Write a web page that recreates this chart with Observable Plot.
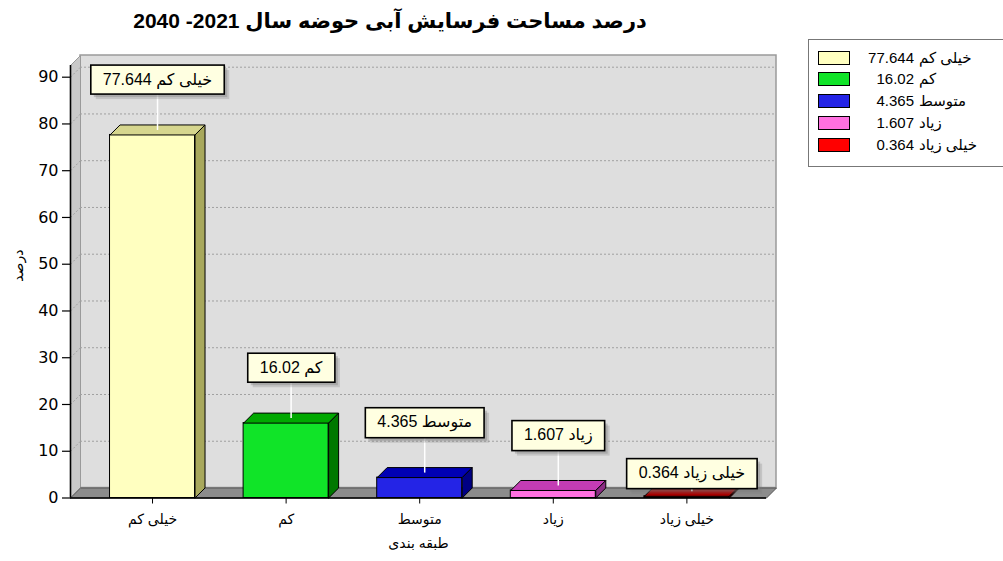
<!DOCTYPE html>
<html><head><meta charset="utf-8">
<script src="https://cdn.jsdelivr.net/npm/d3@7"></script>
<script src="https://cdn.jsdelivr.net/npm/@observablehq/plot@0.6"></script>
<style>
body{margin:0;background:#fff;font-family:"Liberation Sans","DejaVu Sans",sans-serif;}
#wrap{position:relative;width:1003px;height:561px;overflow:hidden;background:#fff;}
#title{position:absolute;left:0;top:0;width:780px;height:40px;line-height:42px;text-align:center;font-weight:bold;font-size:21px;direction:rtl;color:#000;}
#chart{position:absolute;left:0;top:40px;}
#legend{position:absolute;left:808px;top:39px;width:230px;height:128px;border:1px solid #777;box-sizing:border-box;background:#fff;}
.row{position:absolute;left:0;height:22px;width:230px;font-size:15px;color:#000;}
.sw{position:absolute;left:9px;top:4px;width:30px;height:12px;border:1.5px solid #000;}
.num{position:absolute;left:40px;width:65px;text-align:right;top:2px;}
.nm{position:absolute;left:110px;top:2px;white-space:nowrap;}
</style></head>
<body><div id="wrap"><div id="title"></div><div id="chart"></div><div id="legend"></div></div>
<script>
const categories = ["خیلی کم", "کم", "متوسط", "زیاد", "خیلی زیاد"];
const values = [77.644, 16.02, 4.365, 1.607, 0.364];
const yTicks = [0, 10, 20, 30, 40, 50, 60, 70, 80, 90];
const titleText = "درصد مساحت فرسایش آبی حوضه سال 2021- 2040";
const yLabel = "درصد";
const xLabel = "طبقه بندی";
const frontColors = ["#ffffc0", "#10e428", "#2424e6", "#ff70e0", "#e00000"];
const topColors = ["#d6d68e", "#00a800", "#0000b4", "#c43cb4", "#a80000"];
const sideColors = ["#a8a85c", "#007800", "#000084", "#8c2c84", "#780000"];
const legendColors = ["#ffffc0", "#10e428", "#2424e6", "#ff70e0", "#ff0000"];

// layout (pixels)
const W = 1003, H = 521, mL = 70, mR = 237, mT = 25, mB = 63.5;
const yMax = 92.5;
const xDomain = [-0.614, categories.length - 0.404];
const kX = (W - mL - mR) / (xDomain[1] - xDomain[0]);
const kY = (H - mT - mB) / yMax;
const depth = 10;
const dX = depth / kX, dY = depth / kY;
const hw = 42.5 / kX;
const labelOffsetPx = [55.5, 55.5, 55.5, 55.5, 23.3];

document.getElementById("title").textContent = titleText;

const rows = categories.map((c, i) => ({i, c, v: values[i], ly: values[i] + labelOffsetPx[i] / kY, lx: i + dX / 2}));
const poly = (pts, i) => [...pts, pts[0]].map(([x, y]) => ({x, y, i}));
const tops = rows.flatMap(r => poly([[r.i - hw, r.v], [r.i + hw, r.v], [r.i + hw + dX, r.v + dY], [r.i - hw + dX, r.v + dY]], r.i));
const sides = rows.flatMap(r => poly([[r.i + hw, 0], [r.i + hw, r.v], [r.i + hw + dX, r.v + dY], [r.i + hw + dX, dY]], r.i));
const x0 = xDomain[0], x1 = xDomain[1];
const leftWall = poly([[x0, 0], [x0, yMax], [x0 + dX, yMax + dY], [x0 + dX, dY]], 0);
const floor = poly([[x0, 0], [x1, 0], [x1 + dX, dY], [x0 + dX, dY]], 0);

const chart = Plot.plot({
  width: W, height: H,
  marginLeft: mL, marginRight: mR, marginTop: mT, marginBottom: mB,
  x: {domain: xDomain},
  y: {domain: [0, yMax]},
  color: {type: "identity"},
  style: {fontFamily: "'Liberation Sans','DejaVu Sans',sans-serif", background: "transparent"},
  marks: [
    Plot.rect([0], {x1: x0 + dX, x2: x1 + dX, y1: dY, y2: yMax + dY, fill: "#dedede", stroke: "#9a9a9a", strokeWidth: 1.5}),
    Plot.line(leftWall, {x: "x", y: "y", fill: "#c9c9c9", stroke: "#9a9a9a", strokeWidth: 1}),
    Plot.line(floor, {x: "x", y: "y", fill: "#8c8c8c", stroke: "#555", strokeWidth: 1}),
    Plot.ruleY(yTicks.slice(1), {y: t => t + dY, x1: x0 + dX, x2: x1 + dX, stroke: "#a0a0a0", strokeDasharray: "2,2"}),
    Plot.link(yTicks.slice(1), {x1: x0, y1: t => t, x2: x0 + dX, y2: t => t + dY, stroke: "#a0a0a0", strokeDasharray: "2,2"}),
    Plot.rect(rows, {x1: d => d.i - hw, x2: d => d.i + hw, y1: 0, y2: "v", fill: d => frontColors[d.i], stroke: "#000", strokeWidth: 1}),
    Plot.line(tops, {x: "x", y: "y", z: "i", fill: d => topColors[d.i], stroke: "#000", strokeWidth: 1}),
    Plot.line(sides, {x: "x", y: "y", z: "i", fill: d => sideColors[d.i], stroke: "#000", strokeWidth: 1}),
    Plot.ruleX([x0], {y1: 0, y2: yMax, stroke: "#000", strokeWidth: 1.6}),
    Plot.ruleY([0], {x1: x0, x2: x1, stroke: "#000", strokeWidth: 1.6}),
    Plot.axisY(yTicks, {tickSize: 8, tickPadding: 4, fontSize: 16, fontFamily: "DejaVu Sans", label: null, strokeWidth: 1.2}),
    Plot.axisX(d3.range(categories.length), {tickFormat: d => categories[d], tickSize: 6, tickPadding: 10, fontSize: 14, label: null}),
    Plot.text([yLabel], {frameAnchor: "left", dx: -52, rotate: -90, fontSize: 14}),
    Plot.text([xLabel], {frameAnchor: "bottom", dy: 50, fontSize: 14}),
    Plot.link(rows, {x1: "lx", x2: "lx", y1: d => d.v + dY / 2, y2: "ly", stroke: "#fff", strokeWidth: 1.5}),
    Plot.text(rows, {x: "lx", y: "ly", text: d => `${d.v} ${d.c}`, fontSize: 16, fill: "#000", ariaLabel: "value-label"})
  ]
});
document.getElementById("chart").appendChild(chart);

// label boxes behind the value texts
const ns = "http://www.w3.org/2000/svg";
let labelTexts = Array.from(chart.querySelectorAll('text[aria-label="value-label"], g[aria-label="value-label"] text'));
if (!labelTexts.length) {
  const groups = chart.querySelectorAll('g[aria-label="text"]');
  if (groups.length) labelTexts = Array.from(groups[groups.length - 1].querySelectorAll("text"));
}
const padX = 12, padY = 5.5;
for (const t of labelTexts) {
  const b = t.getBBox();
  const tr = t.getAttribute("transform");
  const parent = t.parentNode;
  const mk = (dx, dy, fill, op, stroke) => {
    const r = document.createElementNS(ns, "rect");
    r.setAttribute("x", b.x - padX + dx); r.setAttribute("y", b.y - padY + dy);
    r.setAttribute("width", b.width + 2 * padX); r.setAttribute("height", b.height + 2 * padY);
    r.setAttribute("fill", fill); r.setAttribute("fill-opacity", op);
    if (stroke) { r.setAttribute("stroke", stroke); r.setAttribute("stroke-width", 1.6); }
    if (tr) r.setAttribute("transform", tr);
    parent.insertBefore(r, t);
  };
  mk(5, 5, "#777", 0.25); mk(3, 3, "#777", 0.35);
  mk(0, 0, "#ffffe1", 1, "#000");
}

// legend
const legend = document.getElementById("legend");
categories.forEach((c, i) => {
  const row = document.createElement("div");
  row.className = "row";
  row.style.top = (6.5 + 21.9 * i) + "px";
  row.innerHTML = `<div class="sw" style="background:${legendColors[i]}"></div><span class="num">${values[i]}</span><span class="nm">${c}</span>`;
  legend.appendChild(row);
});
</script></body></html>
